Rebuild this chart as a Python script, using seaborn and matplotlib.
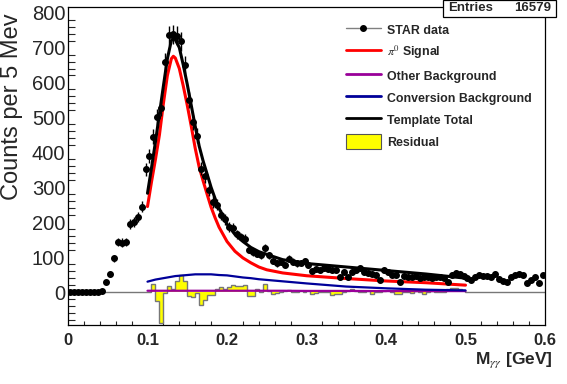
import numpy as np
import matplotlib
matplotlib.use("Agg")
import matplotlib.pyplot as plt
from matplotlib.lines import Line2D
from matplotlib.patches import Patch, Rectangle
import seaborn as sns

# STAR data: counts in 5 MeV bins from 0 to 0.6 GeV
bin_width = 0.005
counts = [
    0, 0, 0, 0, 0, 0, 0, 0, 4, 30,
    52, 97, 143, 142, 143, 196, 200, 215, 244, 351,
    389, 445, 501, 528, 659, 735, 738, 734, 718, 649,
    549, 486, 448, 353, 331, 291, 258, 250, 220, 208,
    187, 184, 165, 158, 153, 122, 115, 110, 106, 127,
    106, 89, 82, 87, 77, 96, 87, 82, 84, 89,
    77, 60, 65, 63, 68, 65, 63, 63, 42, 58,
    42, 58, 63, 68, 58, 55, 53, 50, 36, 63,
    58, 49, 49, 30, 45, 44, 42, 45, 40, 44,
    42, 41, 44, 44, 40, 30, 50, 55, 53, 46,
    40, 34, 44, 50, 47, 46, 44, 53, 39, 32,
    30, 44, 49, 53, 48, 25, 34, 42, 27, 49,
]

# template fit curves (GeV, counts)
curve_x = [0.100, 0.105, 0.110, 0.115, 0.120, 0.125, 0.130, 0.1325, 0.135, 0.140,
           0.145, 0.150, 0.155, 0.160, 0.165, 0.170, 0.175, 0.180, 0.185, 0.190,
           0.200, 0.210, 0.220, 0.230, 0.240, 0.250, 0.270, 0.300, 0.350, 0.400,
           0.450, 0.500]
signal = [245, 315, 380, 450, 540, 620, 668, 675, 670, 640,
          590, 535, 475, 412, 358, 318, 280, 243, 213, 186,
          145, 117, 98, 84, 72, 64, 55, 47, 39, 32,
          27, 20]
conversion = [30, 33, 36, 38, 40, 42, 44, 45, 46, 47,
              48, 49, 50, 51, 51, 51, 51, 51, 50, 49,
              48, 45, 42, 40, 37, 35, 31, 25, 16, 11,
              7, 5]
other = [4, 4, 4, 4, 4, 4, 4, 4, 4, 4,
         4, 4, 4, 4, 4, 4, 4, 4, 4, 4,
         4, 4, 4, 4, 4, 4, 4, 3.5, 3.5, 3,
         3, 3]
total = [283, 355, 430, 510, 590, 668, 720, 727, 722, 700,
         650, 595, 535, 475, 418, 375, 338, 300, 268, 240,
         195, 165, 145, 128, 116, 108, 93, 82, 72, 62,
         52, 40]

# residual histogram, 5 MeV bins from 0.1 to 0.5 GeV
residual = [
    0, 23, -26, -88, -2, 19, 10, 31, 50, 31,
    -12, -14, -2, -38, -22, -8, -8, 8, 15, 10,
    15, 20, 17, 17, 20, -10, -10, 8, 0, 22,
    2, -5, -3, 0, 4, 5, 0, 0, 4, 0,
    3, -5, -2, 0, 0, 0, -8, -6, -4, 0,
    3, 8, 2, 0, 0, 2, -4, 0, 0, 2,
    5, 0, -4, -4, 0, 0, -3, 2, 0, -4,
    0, 2, 0, 0, 0, 8, 12, 12, 8, 5,
]
entries = 16579

counts = np.array(counts, dtype=float)
edges = np.arange(len(counts) + 1) * bin_width
centers = edges[:-1] + bin_width / 2
resid_full = np.zeros(len(counts))
resid_full[20:20 + len(residual)] = residual

sns.set_style("white")
plt.rcParams['font.family'] = ['Liberation Sans', 'DejaVu Sans']
plt.rcParams['mathtext.fontset'] = 'stix'

W, H = 567, 384
fig = plt.figure(figsize=(W / 100, H / 100), dpi=100)
ax = fig.add_axes([68 / W, 1 - 325 / H, (545 - 68) / W, (325 - 7) / H])

# residual
ax.stairs(resid_full, edges, fill=True, color='yellow', zorder=1)
ax.stairs(resid_full, edges, color='#777777', lw=1, zorder=2)

curves = {'Other Background': (other, '#990099', 1.6),
          'Conversion Background': (conversion, '#000099', 1.6),
          'signal': (signal, 'red', 2.2),
          'total': (total, 'black', 2.2)}
for name, (vals, col, lw) in curves.items():
    sns.lineplot(x=curve_x, y=vals, color=col, lw=lw, ax=ax, zorder=3,
                 estimator=None, sort=False)

ax.errorbar(centers, counts, yerr=np.sqrt(counts), fmt='o', color='black',
            ms=4, elinewidth=1, capsize=0, zorder=4)

ax.set_xlim(0, 0.6)
ax.set_ylim(-94, 816)
ax.set_xticks(np.arange(0, 0.61, 0.1))
ax.set_xticks(np.arange(0, 0.61, 0.02), minor=True)
ax.set_xticklabels(['0', '0.1', '0.2', '0.3', '0.4', '0.5', '0.6'],
                   fontsize=12, fontweight='bold')
ax.set_yticks(np.arange(0, 801, 100))
ax.set_yticks(np.arange(-80, 816, 20), minor=True)
ax.tick_params(axis='y', which='major', direction='in', length=9.5, width=0.8,
               labelsize=14.5, pad=2)
ax.tick_params(axis='y', which='minor', direction='in', length=4.7, width=0.8, left=True)
ax.tick_params(axis='x', which='major', direction='in', length=6.5, width=0.8, pad=6)
ax.tick_params(axis='x', which='minor', direction='in', length=3, width=0.8, bottom=True)
for s in ax.spines.values():
    s.set_linewidth(0.9)
    s.set_color('black')

fig.text(12 / W, 1 - 107 / H, 'Counts per 5 Mev', rotation=90, fontsize=17,
         ha='center', va='center')
fig.text(553 / W, 1 - 360 / H, r'M$_{\gamma\gamma}$ [GeV]', fontsize=12.5,
         fontweight='bold', ha='right', va='center')

handles = [
    Line2D([], [], color='gray', lw=1, marker='o', mfc='black', mec='black', ms=4),
    Line2D([], [], color='red', lw=2),
    Line2D([], [], color='#990099', lw=2),
    Line2D([], [], color='#000099', lw=2),
    Line2D([], [], color='black', lw=2),
    Patch(facecolor='yellow', edgecolor='#555555', lw=0.8),
]
labels = ['STAR data', r'$\pi^{0}$ Signal', 'Other Background',
          'Conversion Background', 'Template Total', 'Residual']
fig.legend(handles, labels, loc='upper left', bbox_to_anchor=(346 / W, 1 - 22 / H),
           frameon=False, prop={'weight': 'bold', 'size': 8.9},
           handlelength=2.8, handleheight=1.5, handletextpad=0.55, labelspacing=0.56,
           borderpad=0, borderaxespad=0)

# stats box
fig.patches.append(Rectangle((443 / W, 1 - 17 / H), (556 - 443) / W, 17 / H,
                             transform=fig.transFigure, facecolor='white',
                             edgecolor='black', lw=0.9, zorder=10))
fig.text(448 / W, 1 - 8 / H, 'Entries', fontsize=9.5, fontweight='bold',
         ha='left', va='center', zorder=11)
fig.text(551 / W, 1 - 8 / H, str(entries), fontsize=9.5, fontweight='bold',
         ha='right', va='center', zorder=11)

fig.savefig('out.png', dpi=100)
